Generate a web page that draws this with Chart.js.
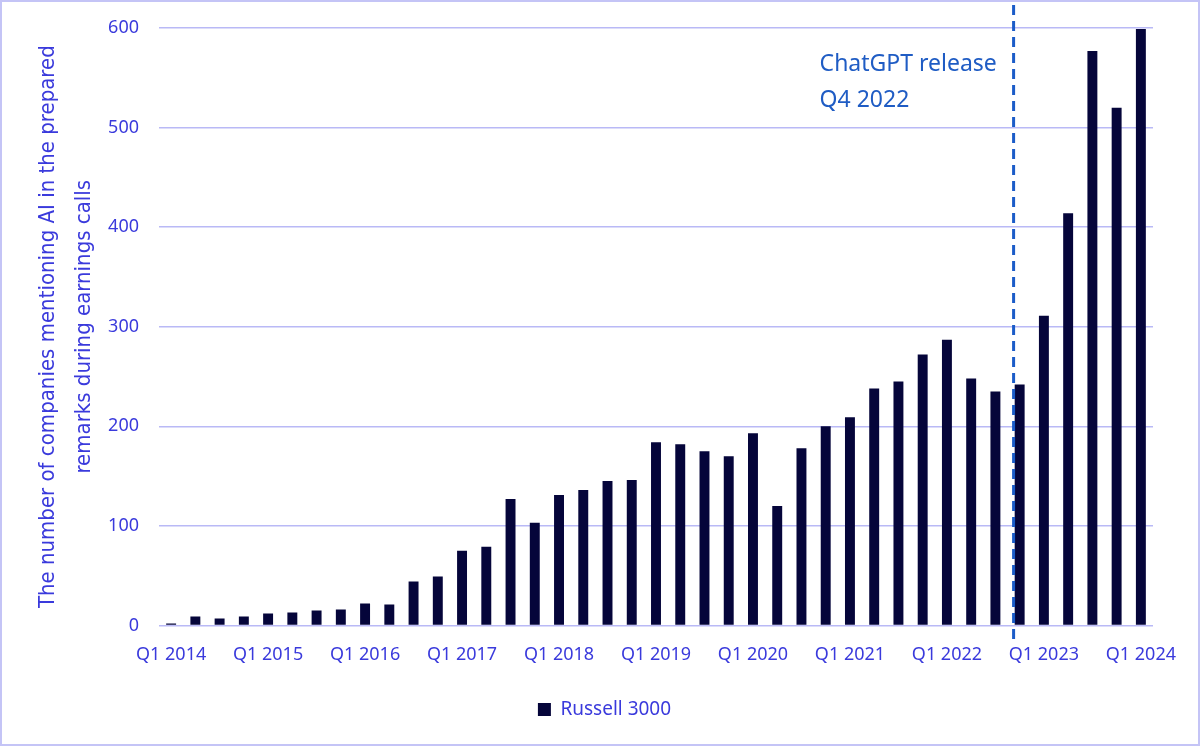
<!DOCTYPE html>
<html lang="en">
<head>
    <meta charset="UTF-8">
    <title>AI mentions in earnings calls</title>
    <script src="https://cdn.jsdelivr.net/npm/chart.js"></script>
    <style>
        html, body {
            margin: 0;
            padding: 0;
            background: #ffffff;
        }
        .frame {
            box-sizing: border-box;
            width: 1200px;
            height: 746px;
            border: 2px solid #c4c4f6;
            position: relative;
        }
    </style>
</head>
<body>
    <div class="frame">
        <canvas id="aiChart"></canvas>
    </div>

    <script>
        // Quarterly categories, Q1 2014 .. Q1 2024
        const quarters = [
            'Q1 2014', 'Q2 2014', 'Q3 2014', 'Q4 2014',
            'Q1 2015', 'Q2 2015', 'Q3 2015', 'Q4 2015',
            'Q1 2016', 'Q2 2016', 'Q3 2016', 'Q4 2016',
            'Q1 2017', 'Q2 2017', 'Q3 2017', 'Q4 2017',
            'Q1 2018', 'Q2 2018', 'Q3 2018', 'Q4 2018',
            'Q1 2019', 'Q2 2019', 'Q3 2019', 'Q4 2019',
            'Q1 2020', 'Q2 2020', 'Q3 2020', 'Q4 2020',
            'Q1 2021', 'Q2 2021', 'Q3 2021', 'Q4 2021',
            'Q1 2022', 'Q2 2022', 'Q3 2022', 'Q4 2022',
            'Q1 2023', 'Q2 2023', 'Q3 2023', 'Q4 2023',
            'Q1 2024'
        ];

        // Russell 3000 companies mentioning AI in prepared remarks
        const russell3000 = [
            2, 9, 7, 9,
            12, 13, 15, 16,
            22, 21, 44, 49,
            75, 79, 127, 103,
            131, 136, 145, 146,
            184, 182, 175, 170,
            193, 120, 178, 200,
            209, 238, 245, 272,
            287, 248, 235, 242,
            311, 414, 577, 520,
            599
        ];

        const xTickLabels = ['Q1 2014', 'Q1 2015', 'Q1 2016', 'Q1 2017', 'Q1 2018', 'Q1 2019',
                             'Q1 2020', 'Q1 2021', 'Q1 2022', 'Q1 2023', 'Q1 2024'];
        const yTicks = [0, 100, 200, 300, 400, 500, 600];

        const releaseQuarter = 'Q4 2022';
        const releaseText = ['ChatGPT release', 'Q4 2022'];

        const tickColor = '#3a3adc';
        const gridColor = '#b9b9f6';

        // dashed release marker + its label
        const releaseMarker = {
            id: 'releaseMarker',
            afterDatasetsDraw(chart) {
                const ctx = chart.ctx;
                const xs = chart.scales.x;
                const area = chart.chartArea;
                const idx = quarters.indexOf(releaseQuarter);
                const step = xs.getPixelForValue(1) - xs.getPixelForValue(0);
                const x = xs.getPixelForValue(idx) - step * 0.25;

                ctx.save();
                ctx.strokeStyle = '#1b5cc8';
                ctx.lineWidth = 3;
                ctx.setLineDash([10, 6]);
                ctx.beginPath();
                ctx.moveTo(x, area.top - 23);
                ctx.lineTo(x, area.bottom + 16);
                ctx.stroke();
                ctx.restore();

                ctx.save();
                ctx.fillStyle = '#1f5cc4';
                ctx.font = '23px "Noto Sans", sans-serif';
                ctx.textAlign = 'left';
                ctx.textBaseline = 'alphabetic';
                const tx = x - 194;
                ctx.fillText(releaseText[0], tx, area.top + 43);
                ctx.fillText(releaseText[1], tx, area.top + 79);
                ctx.restore();
            }
        };

        new Chart(document.getElementById('aiChart'), {
            type: 'bar',
            data: {
                labels: quarters,
                datasets: [{
                    label: 'Russell 3000',
                    data: russell3000,
                    backgroundColor: '#05053a',
                    borderWidth: 0,
                    barPercentage: 0.82,
                    categoryPercentage: 0.5
                }]
            },
            options: {
                responsive: true,
                maintainAspectRatio: false,
                animation: false,
                layout: {
                    padding: { left: 28, right: 19, top: 26, bottom: 15 }
                },
                plugins: {
                    legend: {
                        display: true,
                        position: 'bottom',
                        labels: {
                            color: tickColor,
                            boxWidth: 13,
                            boxHeight: 13,
                            padding: 23,
                            font: { family: '"Noto Sans", sans-serif', size: 19 }
                        }
                    },
                    tooltip: { enabled: false }
                },
                scales: {
                    x: {
                        grid: { display: false },
                        border: { display: false },
                        ticks: {
                            color: tickColor,
                            autoSkip: false,
                            maxRotation: 0,
                            padding: 11,
                            font: { family: '"Noto Sans", sans-serif', size: 18 },
                            callback: function (value, index) {
                                const lab = quarters[index];
                                return xTickLabels.includes(lab) ? lab : '';
                            }
                        }
                    },
                    y: {
                        min: 0,
                        max: 600,
                        afterBuildTicks: function (scale) {
                            scale.ticks = yTicks.map(v => ({ value: v }));
                        },
                        afterFit: function (scale) {
                            scale.width = 129;
                            scale.paddingTop = 0;
                            scale.paddingBottom = 0;
                        },
                        grid: {
                            color: gridColor,
                            lineWidth: 1.5,
                            drawTicks: false
                        },
                        border: { display: false },
                        ticks: {
                            color: tickColor,
                            padding: 20,
                            font: { family: '"Noto Sans", sans-serif', size: 18 }
                        },
                        title: {
                            display: true,
                            text: ['The number of companies mentioning AI in the prepared',
                                   'remarks during earnings calls'],
                            color: tickColor,
                            padding: { top: 0, bottom: 0 },
                            font: { family: '"DejaVu Sans Condensed", "Liberation Sans Narrow", sans-serif', size: 22, lineHeight: 1.64 }
                        }
                    },
                    // empty right-hand spacer so the chart area ends where the reference does
                    spacer: {
                        type: 'linear',
                        position: 'right',
                        display: true,
                        grid: { display: false },
                        border: { display: false },
                        ticks: { display: false },
                        afterFit: function (scale) {
                            scale.width = 26;
                        }
                    }
                }
            },
            plugins: [releaseMarker]
        });
    </script>
</body>
</html>
